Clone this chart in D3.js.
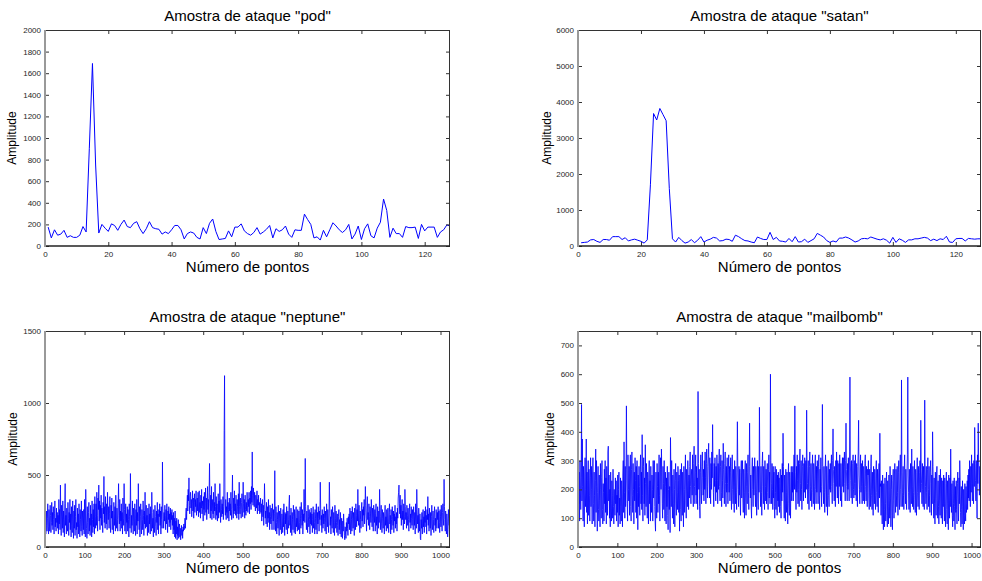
<!DOCTYPE html>
<html>
<head>
<meta charset="utf-8">
<script src="https://cdn.jsdelivr.net/npm/d3@7"></script>
<style>
  body { margin: 0; background: #fff; }
  svg { display: block; font-family: "Liberation Sans", Arial, sans-serif; }
</style>
</head>
<body>
<svg id="chart" width="982" height="581"></svg>
<script>
// amostras (indice 1..N)
const podValues = [
  175,75,150,100,110,145,80,95,80,80,100,180,130,900,1690,750,120,200,165,135,
  205,190,145,200,240,180,170,210,225,160,115,160,225,170,160,155,110,130,115,150,
  190,190,150,65,115,130,120,80,65,170,115,210,250,135,60,65,70,140,85,175,
  175,205,140,115,100,125,170,110,130,155,190,75,160,135,150,185,110,80,150,145,
  145,295,245,200,75,85,55,145,85,150,215,185,150,125,150,200,65,110,185,60,
  160,205,95,75,165,220,435,330,80,165,115,115,80,180,170,170,175,70,200,140,
  175,175,175,80,130,150,195,185
];

const satanValues = [
  90,100,110,170,180,130,100,180,180,160,260,260,260,180,230,140,170,190,160,130,
  80,170,1700,3680,3500,3820,3650,3480,1600,200,110,240,150,80,110,180,90,160,260,110,
  160,190,240,220,140,150,190,180,130,300,260,200,150,140,110,90,250,210,180,180,
  380,180,240,140,130,110,210,120,260,110,120,190,100,150,200,350,300,250,150,100,
  140,110,220,220,250,220,170,110,140,200,210,200,250,220,190,170,200,160,80,240,
  100,200,160,100,170,170,200,200,220,240,220,150,190,150,200,180,270,110,100,200,
  210,210,140,210,200,190,200,200
];

const neptuneValues = [
  280,90,150,250,110,200,300,140,90,260,180,110,290,220,100,170,310,150,240,120,280,190,90,230,320,140,200,110,270,170,240,130,
  220,90,330,160,260,120,430,180,80,290,210,130,320,100,250,190,70,300,440,150,220,90,270,160,110,310,200,80,240,170,330,120,
  230,70,280,150,100,320,190,60,250,130,290,80,210,330,120,170,60,270,140,230,90,300,160,70,260,190,110,320,140,80,250,180,
  120,260,90,330,180,70,400,230,130,60,280,170,90,240,310,110,200,80,290,150,230,70,320,190,100,260,140,300,90,350,210,130,
  300,150,380,220,110,340,260,430,180,320,120,290,200,360,150,270,190,100,310,230,490,170,280,130,350,210,160,300,120,380,240,190,
  280,130,230,350,160,100,290,200,340,120,250,180,90,310,230,150,280,110,360,200,130,270,190,110,300,440,220,160,330,110,250,180,
  300,130,240,90,340,200,150,440,260,110,180,300,90,230,170,280,110,260,190,70,300,210,130,510,250,100,220,150,320,180,90,270,
  180,110,300,200,80,260,150,330,90,240,180,440,230,120,280,70,210,300,150,90,260,190,120,320,220,80,250,160,380,130,210,290,
  140,220,80,270,190,100,300,160,230,90,280,170,110,380,240,130,200,70,260,180,100,290,210,140,80,250,170,310,120,230,90,260,
  210,300,150,250,90,280,190,130,590,270,200,130,240,180,290,220,120,260,160,300,210,100,250,190,280,140,230,170,270,120,240,190,
  260,150,220,90,240,120,200,70,250,60,180,90,200,50,140,80,190,60,120,160,70,130,50,100,150,80,120,60,140,110,160,120,
  150,200,130,230,270,190,300,360,250,400,320,480,290,230,350,380,270,330,210,300,390,250,340,200,310,370,240,330,280,390,220,300,
  340,250,380,210,330,390,240,310,200,360,270,400,230,320,280,180,350,260,380,220,300,410,240,340,190,310,420,260,330,230,380,580,
  300,200,360,250,420,190,330,270,230,380,200,310,250,440,280,190,350,220,300,180,260,370,200,320,240,440,290,170,330,260,210,300,
  230,350,190,280,810,1190,300,220,330,190,280,240,380,200,310,260,180,340,250,300,220,380,260,190,320,500,270,200,340,230,390,250,
  300,220,360,250,200,330,280,230,370,190,450,280,230,340,260,200,310,370,250,210,450,300,240,330,200,360,260,220,310,250,380,290,
  240,330,280,380,230,340,300,390,260,420,310,660,360,290,410,340,280,380,300,250,360,320,270,390,230,330,290,360,250,310,230,290,
  340,240,300,180,270,330,210,290,150,260,440,300,200,250,160,310,230,140,280,200,330,170,240,120,290,210,160,270,190,120,300,230,
  180,260,120,230,530,200,110,280,170,90,240,190,130,290,160,80,250,200,120,270,150,90,230,180,100,260,140,300,190,80,240,160,
  230,120,280,170,90,250,190,130,300,360,150,220,100,270,160,80,240,190,120,290,210,100,260,170,90,230,280,140,200,110,260,180,
  120,250,170,90,280,200,130,310,220,150,260,90,230,180,400,240,170,615,280,200,120,250,170,100,290,210,140,260,190,90,240,160,
  270,150,230,100,190,280,130,240,170,90,260,200,120,300,180,90,240,160,280,200,110,250,190,450,270,150,220,100,260,180,130,230,
  160,280,200,110,250,170,90,300,220,140,260,180,100,230,450,270,150,210,90,260,190,130,280,200,100,240,170,80,290,200,130,250,
  170,100,230,150,80,210,260,120,190,90,240,150,70,200,130,60,180,110,230,150,80,50,140,90,60,170,110,200,130,80,210,160,
  230,120,270,180,90,250,190,110,280,200,130,240,160,80,270,190,120,300,220,140,260,180,400,230,150,290,170,100,250,190,130,270,
  310,180,260,140,280,220,330,160,240,420,290,200,110,270,350,190,240,150,300,210,120,280,230,170,330,250,140,270,200,110,290,220,
  170,260,110,230,300,150,210,90,280,190,130,250,170,400,250,120,210,290,160,100,260,200,130,240,180,90,230,290,150,210,110,260,
  200,130,270,180,100,240,300,160,220,90,260,190,120,280,210,150,250,100,230,180,290,130,210,160,240,110,270,200,340,380,430,300,
  230,360,200,290,150,270,330,190,250,120,300,210,160,400,280,190,240,130,290,220,150,270,190,110,250,300,170,230,130,280,200,150,
  260,190,120,280,210,150,240,90,300,200,130,400,250,160,220,100,270,180,110,230,60,50,190,130,240,90,200,260,140,210,100,250,
  170,280,140,220,90,260,190,350,150,230,110,270,200,130,240,80,210,290,160,120,250,190,100,230,280,150,200,110,260,180,130,240,
  190,280,130,250,170,100,260,210,140,290,180,110,240,300,200,150,470,280,190,110,250,170,90,230,180,70,120,260,200,150,390,200
];

const mailbombValues = [
  290,150,260,90,300,200,130,240,495,160,375,210,90,280,170,70,250,310,140,200,375,120,260,80,230,300,110,270,180,90,240,310,
  140,280,200,80,250,310,150,90,260,180,70,230,340,120,300,210,55,190,280,130,90,250,160,70,290,200,100,240,300,130,80,220,
  190,90,270,150,300,120,240,80,280,200,110,330,350,160,250,100,200,70,260,150,90,230,180,100,270,140,80,200,160,110,240,150,
  230,90,180,120,250,70,200,260,110,170,80,240,140,90,230,170,70,250,300,120,365,190,100,280,140,230,490,270,150,90,320,200,
  160,280,110,240,320,140,90,270,330,180,120,290,200,80,260,160,310,230,120,280,100,300,190,60,250,140,280,210,110,270,320,150,
  260,130,390,180,90,280,310,150,240,110,355,220,140,290,180,100,260,200,80,240,300,150,230,90,280,170,120,250,200,90,300,170,
  240,300,140,90,55,260,160,100,290,210,120,260,150,320,180,90,270,310,200,340,260,150,100,280,220,130,300,170,90,260,210,80,
  240,140,280,110,60,200,260,130,210,50,380,260,140,300,190,100,250,150,80,270,200,70,230,290,160,110,260,190,130,280,230,120,
  250,55,200,270,130,90,290,180,110,260,160,70,280,200,120,250,320,160,100,270,210,140,300,230,130,250,170,280,330,210,150,250,
  270,180,320,200,140,290,350,210,150,260,320,180,280,150,240,130,540,290,200,270,140,100,260,320,200,150,280,330,240,180,270,160,
  300,200,330,240,150,290,340,210,170,280,320,360,240,170,310,220,150,290,200,330,240,425,280,190,140,290,210,310,230,160,280,190,
  320,230,150,290,200,300,340,210,160,280,320,190,140,300,230,170,360,270,200,150,290,330,220,140,280,190,310,220,150,270,320,190,
  280,160,260,310,190,130,280,320,200,150,270,180,120,300,210,150,280,190,130,260,435,280,200,140,280,180,270,160,110,260,300,170,
  250,300,170,120,270,190,100,260,300,170,110,290,210,150,260,320,190,130,280,430,260,170,250,140,100,270,310,200,140,280,180,250,
  310,200,140,280,190,110,260,300,170,130,280,190,485,280,200,140,280,190,110,290,330,210,150,280,180,130,300,210,160,270,150,250,
  290,190,130,270,320,170,260,150,600,300,220,150,290,200,130,280,170,260,140,100,280,190,130,270,170,110,250,160,260,140,240,120,
  220,270,140,100,250,160,290,190,395,280,170,100,250,150,90,270,190,120,260,160,80,250,290,150,110,260,170,100,240,280,160,260,
  190,280,160,260,320,200,490,260,190,130,280,190,320,230,150,300,200,140,290,340,220,160,300,200,130,280,320,210,160,290,190,310,
  270,170,300,200,475,280,220,150,300,200,130,280,330,210,160,290,200,140,280,320,190,150,290,210,130,270,320,200,150,280,190,300,
  250,150,280,320,180,130,270,190,310,210,140,280,495,280,200,150,280,190,120,270,320,200,140,280,180,110,260,300,180,140,270,200,
  290,190,280,320,210,150,300,410,270,220,160,280,190,140,300,210,330,230,170,300,200,150,290,210,320,220,160,290,190,140,280,310,
  210,310,190,280,330,220,160,300,430,270,210,160,290,200,310,220,160,330,590,300,230,170,300,210,150,290,320,200,170,300,220,180,
  320,220,160,290,200,140,280,330,440,250,200,150,280,320,190,290,210,150,300,220,160,280,200,150,290,320,210,160,280,190,140,270,
  250,300,170,130,270,190,140,280,320,180,130,260,170,110,280,200,150,270,180,130,260,300,190,140,270,170,120,250,290,170,395,210,
  220,110,230,150,80,250,160,60,220,130,70,240,150,90,220,260,110,70,230,140,80,250,160,100,280,170,70,200,250,110,60,230,
  270,160,100,250,290,170,120,270,180,140,280,190,110,260,300,170,130,270,320,200,140,580,260,190,140,280,180,130,270,320,200,150,
  270,170,130,260,320,590,250,190,130,270,180,120,290,200,150,340,210,140,280,190,130,250,300,180,120,270,170,110,260,310,190,140,
  280,180,130,260,300,190,440,270,220,150,290,200,140,280,180,130,510,270,210,150,280,190,130,270,310,200,140,280,180,120,260,300,
  220,110,250,150,400,280,170,100,240,150,80,260,170,110,250,280,160,100,230,140,80,250,160,110,270,170,100,240,150,80,230,140,
  250,150,90,240,140,70,220,260,130,80,230,150,60,250,160,100,240,140,340,200,120,220,110,70,230,150,90,240,140,60,210,120,
  230,130,80,220,260,140,90,240,150,300,230,120,70,210,130,80,230,140,60,200,110,80,220,130,90,210,120,150,230,130,250,170,
  270,160,300,200,140,280,190,320,220,160,290,200,150,300,210,415,290,230,160,300,210,100,320,220,430,300,250,180,280,210,320,250
];

const shortXTicks = [0, 20, 40, 60, 80, 100, 120];
const longXTicks = [0, 100, 200, 300, 400, 500, 600, 700, 800, 900, 1000];
const podYTicks = [0, 200, 400, 600, 800, 1000, 1200, 1400, 1600, 1800, 2000];
const satanYTicks = [0, 1000, 2000, 3000, 4000, 5000, 6000];
const neptuneYTicks = [0, 500, 1000, 1500];
const mailbombYTicks = [0, 100, 200, 300, 400, 500, 600, 700];

const svg = d3.select("#chart");
const fmt = d3.format("d");

function drawPanel(p) {
  const x = d3.scaleLinear().domain([0, p.xMax]).range([p.left, p.right]);
  const y = d3.scaleLinear().domain([0, p.yMax]).range([p.bottom, p.top]);
  const g = svg.append("g");

  const clipId = "clip-" + p.id;
  g.append("clipPath").attr("id", clipId)
    .append("rect")
    .attr("x", p.left).attr("y", p.top)
    .attr("width", p.right - p.left).attr("height", p.bottom - p.top);

  const line = d3.line()
    .x((d, i) => x(i + 1))
    .y(d => y(d));

  g.append("path")
    .datum(p.values)
    .attr("clip-path", `url(#${clipId})`)
    .attr("fill", "none")
    .attr("stroke", "#0000ff")
    .attr("stroke-width", p.lineWidth)
    .attr("stroke-linejoin", "bevel")
    .attr("d", line);

  // eixos estilo matlab, ticks para dentro
  const bottomAxis = g.append("g")
    .attr("transform", `translate(0,${p.bottom})`)
    .call(d3.axisBottom(x).tickValues(p.xTicks).tickFormat(fmt).tickSizeInner(-4).tickSizeOuter(0).tickPadding(5));
  const leftAxis = g.append("g")
    .attr("transform", `translate(${p.left},0)`)
    .call(d3.axisLeft(y).tickValues(p.yTicks).tickFormat(fmt).tickSizeInner(-4).tickSizeOuter(0).tickPadding(4));
  const topAxis = g.append("g")
    .attr("transform", `translate(0,${p.top})`)
    .call(d3.axisTop(x).tickValues(p.xTicks).tickSizeInner(-4).tickSizeOuter(0).tickFormat(""));
  const rightAxis = g.append("g")
    .attr("transform", `translate(${p.right},0)`)
    .call(d3.axisRight(y).tickValues(p.yTicks).tickSizeInner(-4).tickSizeOuter(0).tickFormat(""));

  [bottomAxis, leftAxis, topAxis, rightAxis].forEach(a => {
    a.select(".domain").remove();
    a.selectAll("line").attr("stroke", "#333");
    a.selectAll("text").attr("font-size", 8).attr("fill", "#262626")
      .attr("font-family", "'Liberation Sans', Arial, sans-serif");
  });

  // caixa
  g.append("line").attr("x1", p.left).attr("x2", p.right).attr("y1", p.top + 0.5).attr("y2", p.top + 0.5)
    .attr("stroke", "#333").attr("stroke-width", 1);
  g.append("line").attr("x1", p.right - 0.5).attr("x2", p.right - 0.5).attr("y1", p.top).attr("y2", p.bottom)
    .attr("stroke", "#333").attr("stroke-width", 1);
  g.append("line").attr("x1", p.left).attr("x2", p.right).attr("y1", p.bottom).attr("y2", p.bottom)
    .attr("stroke", "#222").attr("stroke-width", 1.5);
  g.append("line").attr("x1", p.left).attr("x2", p.left).attr("y1", p.top).attr("y2", p.bottom + 1)
    .attr("stroke", "#999").attr("stroke-width", 2);

  g.append("text")
    .attr("x", (p.left + p.right) / 2).attr("y", p.top - 9)
    .attr("text-anchor", "middle").attr("font-size", 15)
    .text(p.title);

  g.append("text")
    .attr("x", (p.left + p.right) / 2).attr("y", p.bottom + 26)
    .attr("text-anchor", "middle").attr("font-size", 15)
    .text("Número de pontos");

  g.append("text")
    .attr("transform", `translate(${p.yLabelX},${(p.top + p.bottom) / 2}) rotate(-90)`)
    .attr("text-anchor", "middle").attr("font-size", 12)
    .text("Amplitude");
}

drawPanel({ id: "pod", title: 'Amostra de ataque "pod"', values: podValues,
  left: 45, right: 450, top: 30, bottom: 246, xMax: 128, yMax: 2000, lineWidth: 1,
  xTicks: shortXTicks, yTicks: podYTicks, yLabelX: 16 });

drawPanel({ id: "satan", title: 'Amostra de ataque "satan"', values: satanValues,
  left: 578, right: 981, top: 30, bottom: 246, xMax: 128, yMax: 6000, lineWidth: 1,
  xTicks: shortXTicks, yTicks: satanYTicks, yLabelX: 551 });

drawPanel({ id: "neptune", title: 'Amostra de ataque "neptune"', values: neptuneValues,
  left: 45, right: 450, top: 331, bottom: 547, xMax: 1024, yMax: 1500, lineWidth: 0.8,
  xTicks: longXTicks, yTicks: neptuneYTicks, yLabelX: 17 });

drawPanel({ id: "mailbomb", title: 'Amostra de ataque "mailbomb"', values: mailbombValues,
  left: 578, right: 981, top: 331, bottom: 547, xMax: 1024, yMax: 750, lineWidth: 0.8,
  xTicks: longXTicks, yTicks: mailbombYTicks, yLabelX: 554 });
</script>
</body>
</html>
